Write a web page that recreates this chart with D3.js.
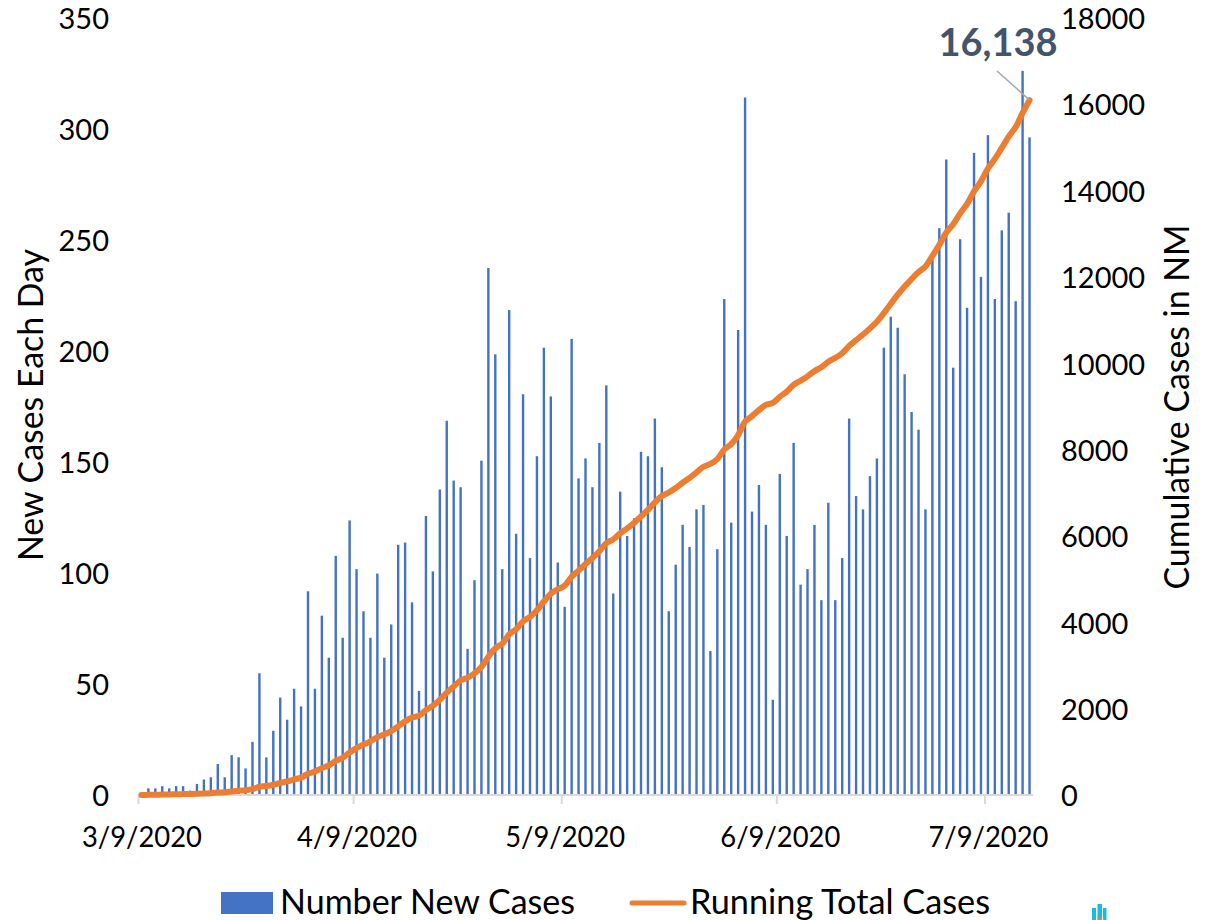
<!DOCTYPE html>
<html><head><meta charset="utf-8">
<script src="https://cdn.jsdelivr.net/npm/d3@7"></script>
<style>
html,body{margin:0;padding:0;background:#fff;overflow:hidden}
svg{display:block;font-family:Lato,"Open Sans",sans-serif}
</style></head><body>
<svg id="c" width="1214" height="920"></svg>
<script>
const startDate = "2020-03-09";
const endDate = "2020-07-16";
const dateTicks = ["2020-03-09","2020-04-09","2020-05-09","2020-06-09","2020-07-09"];
const leftTicks = [0,50,100,150,200,250,300,350];
const rightTicks = [0,2000,4000,6000,8000,10000,12000,14000,16000,18000];
const newCases = [0,3,3,4,3,4,4,2,5,7,8,14,8,18,17,12,24,55,17,29,44,34,48,40,92,48,81,62,108,71,124,102,83,71,100,62,77,113,114,87,47,126,101,138,169,142,139,66,97,151,238,199,102,219,118,181,107,153,202,180,105,85,206,143,152,139,159,185,91,137,117,125,155,153,170,148,83,104,122,112,129,131,65,111,224,123,210,315,128,140,122,43,145,117,159,95,102,122,88,132,88,107,170,135,129,144,152,202,216,211,190,173,165,129,245,256,287,193,251,220,290,234,298,224,255,263,223,327,297];
const runningTotal = [0,3,6,10,13,17,21,23,28,35,43,57,65,83,100,112,136,191,208,237,281,315,363,403,495,543,624,686,794,865,989,1091,1174,1245,1345,1407,1484,1597,1711,1798,1845,1971,2072,2210,2379,2521,2660,2726,2823,2974,3212,3411,3513,3732,3850,4031,4138,4291,4493,4673,4778,4863,5069,5212,5364,5503,5662,5847,5938,6075,6192,6317,6472,6625,6795,6943,7026,7130,7252,7364,7493,7624,7689,7800,8024,8147,8357,8672,8800,8940,9062,9105,9250,9367,9526,9621,9723,9845,9933,10065,10153,10260,10430,10565,10694,10838,10990,11192,11408,11619,11809,11982,12147,12276,12521,12777,13064,13257,13508,13728,14018,14252,14550,14774,15029,15292,15515,15842,16138];
const seriesNames = ["Number New Cases","Running Total Cases"];
const leftTitle = "New Cases Each Day";
const rightTitle = "Cumulative Cases in NM";
const peakLabel = "16,138";

const plot = {l:138, r:1033, t:20, b:795};
const svg = d3.select("#c");
const parse = d3.utcParse("%Y-%m-%d");
const fmt = d => `${d.getUTCMonth()+1}/${d.getUTCDate()}/${d.getUTCFullYear()}`;
const x = d3.scaleUtc().domain([parse(startDate),parse(endDate)]).range([plot.l,plot.r]);
const days = newCases.map((_,i)=>d3.utcDay.offset(parse(startDate),i));
const band = x(days[1])-x(days[0]);
const cx = i => x(days[i])+band/2;
const yL = d3.scaleLinear().domain([0,350]).range([plot.b,plot.t]);
const yR = d3.scaleLinear().domain([0,18000]).range([plot.b,plot.t]);
const labelRange = [plot.b+1.7, plot.t-0.8];
const blue="#4472C4", orange="#ED7D31", tickFs=29;

// bars
const barW=2.4;
svg.append("g").selectAll("rect").data(newCases).join("rect")
  .attr("x",(d,i)=>cx(i)-barW/2).attr("width",barW)
  .attr("y",d=>yL(d)).attr("height",d=>yL(0)-yL(d)).attr("fill",blue);

// x axis
const gx=svg.append("g").attr("transform",`translate(0,${plot.b})`)
  .call(d3.axisBottom(x).tickValues(dateTicks.map(parse)).tickFormat(fmt).tickSize(9).tickPadding(22));
gx.selectAll("path,line").attr("stroke","#D9D9D9").attr("stroke-width",2);
gx.select("path").attr("d",`M${plot.l},0H${plot.r}`);
gx.selectAll("text").attr("font-size",tickFs).attr("font-family","Lato").attr("fill","#000").attr("dy","0.72em")
  .attr("dx",band/2).attr("textLength",120).attr("lengthAdjust","spacingAndGlyphs");

// y axes
const gl=svg.append("g").attr("transform",`translate(${plot.l},0)`)
  .call(d3.axisLeft(yL.copy().range(labelRange)).tickValues(leftTicks).tickSize(0).tickPadding(29));
const gr=svg.append("g").attr("transform",`translate(${plot.r},0)`)
  .call(d3.axisRight(yR.copy().range(labelRange)).tickValues(rightTicks).tickFormat(d3.format("d")).tickSize(0).tickPadding(28));
[gl,gr].forEach(g=>{g.select(".domain").remove();
  g.selectAll("text").attr("font-size",tickFs).attr("font-family","Lato").attr("fill","#000");});

// running total line
const line=d3.line().x((d,i)=>cx(i)).y(d=>yR(d)).curve(d3.curveCatmullRom);
svg.append("path").datum(runningTotal).attr("d",line).attr("fill","none")
  .attr("stroke",orange).attr("stroke-width",6).attr("stroke-linecap","round").attr("stroke-linejoin","round");

// data label with leader
const li=runningTotal.length-1;
svg.append("line").attr("x1",997).attr("y1",71).attr("x2",cx(li)).attr("y2",yR(runningTotal[li]))
  .attr("stroke","#A6A6A6").attr("stroke-width",1.5);
svg.append("text").attr("x",998).attr("y",56).attr("text-anchor","middle")
  .attr("font-size",38).attr("font-weight",700).attr("font-family","Lato").attr("fill","#44546A").text(peakLabel);

// axis titles
svg.append("text").attr("transform","translate(43,405) rotate(-90)").attr("text-anchor","middle")
  .attr("font-size",34).attr("fill","#000").attr("textLength",312).attr("lengthAdjust","spacingAndGlyphs").text(leftTitle);
svg.append("text").attr("transform","translate(1189,407) rotate(-90)").attr("text-anchor","middle")
  .attr("font-size",34).attr("fill","#000").attr("textLength",365).attr("lengthAdjust","spacingAndGlyphs").text(rightTitle);

// legend
svg.append("rect").attr("x",221).attr("y",892).attr("width",52).attr("height",22).attr("fill",blue);
svg.append("text").attr("x",280).attr("y",914).attr("font-size",34).attr("fill","#000")
  .attr("textLength",295).attr("lengthAdjust","spacingAndGlyphs").text(seriesNames[0]);
svg.append("line").attr("x1",632).attr("x2",684).attr("y1",903).attr("y2",903)
  .attr("stroke",orange).attr("stroke-width",5).attr("stroke-linecap","round");
svg.append("text").attr("x",690).attr("y",914).attr("font-size",34).attr("fill","#000")
  .attr("textLength",300).attr("lengthAdjust","spacingAndGlyphs").text(seriesNames[1]);

// small logo fragment at bottom edge
svg.append("g").attr("fill","#14BEDC").selectAll("rect")
  .data([[1092,908,4],[1097.5,904,4.5],[1103,908,3.5]]).join("rect")
  .attr("x",d=>d[0]).attr("y",d=>d[1]).attr("width",d=>d[2]).attr("height",d=>920-d[1]);
svg.append("rect").attr("x",1097.5).attr("y",918).attr("width",4.5).attr("height",2).attr("fill",orange);
</script>
</body></html>
